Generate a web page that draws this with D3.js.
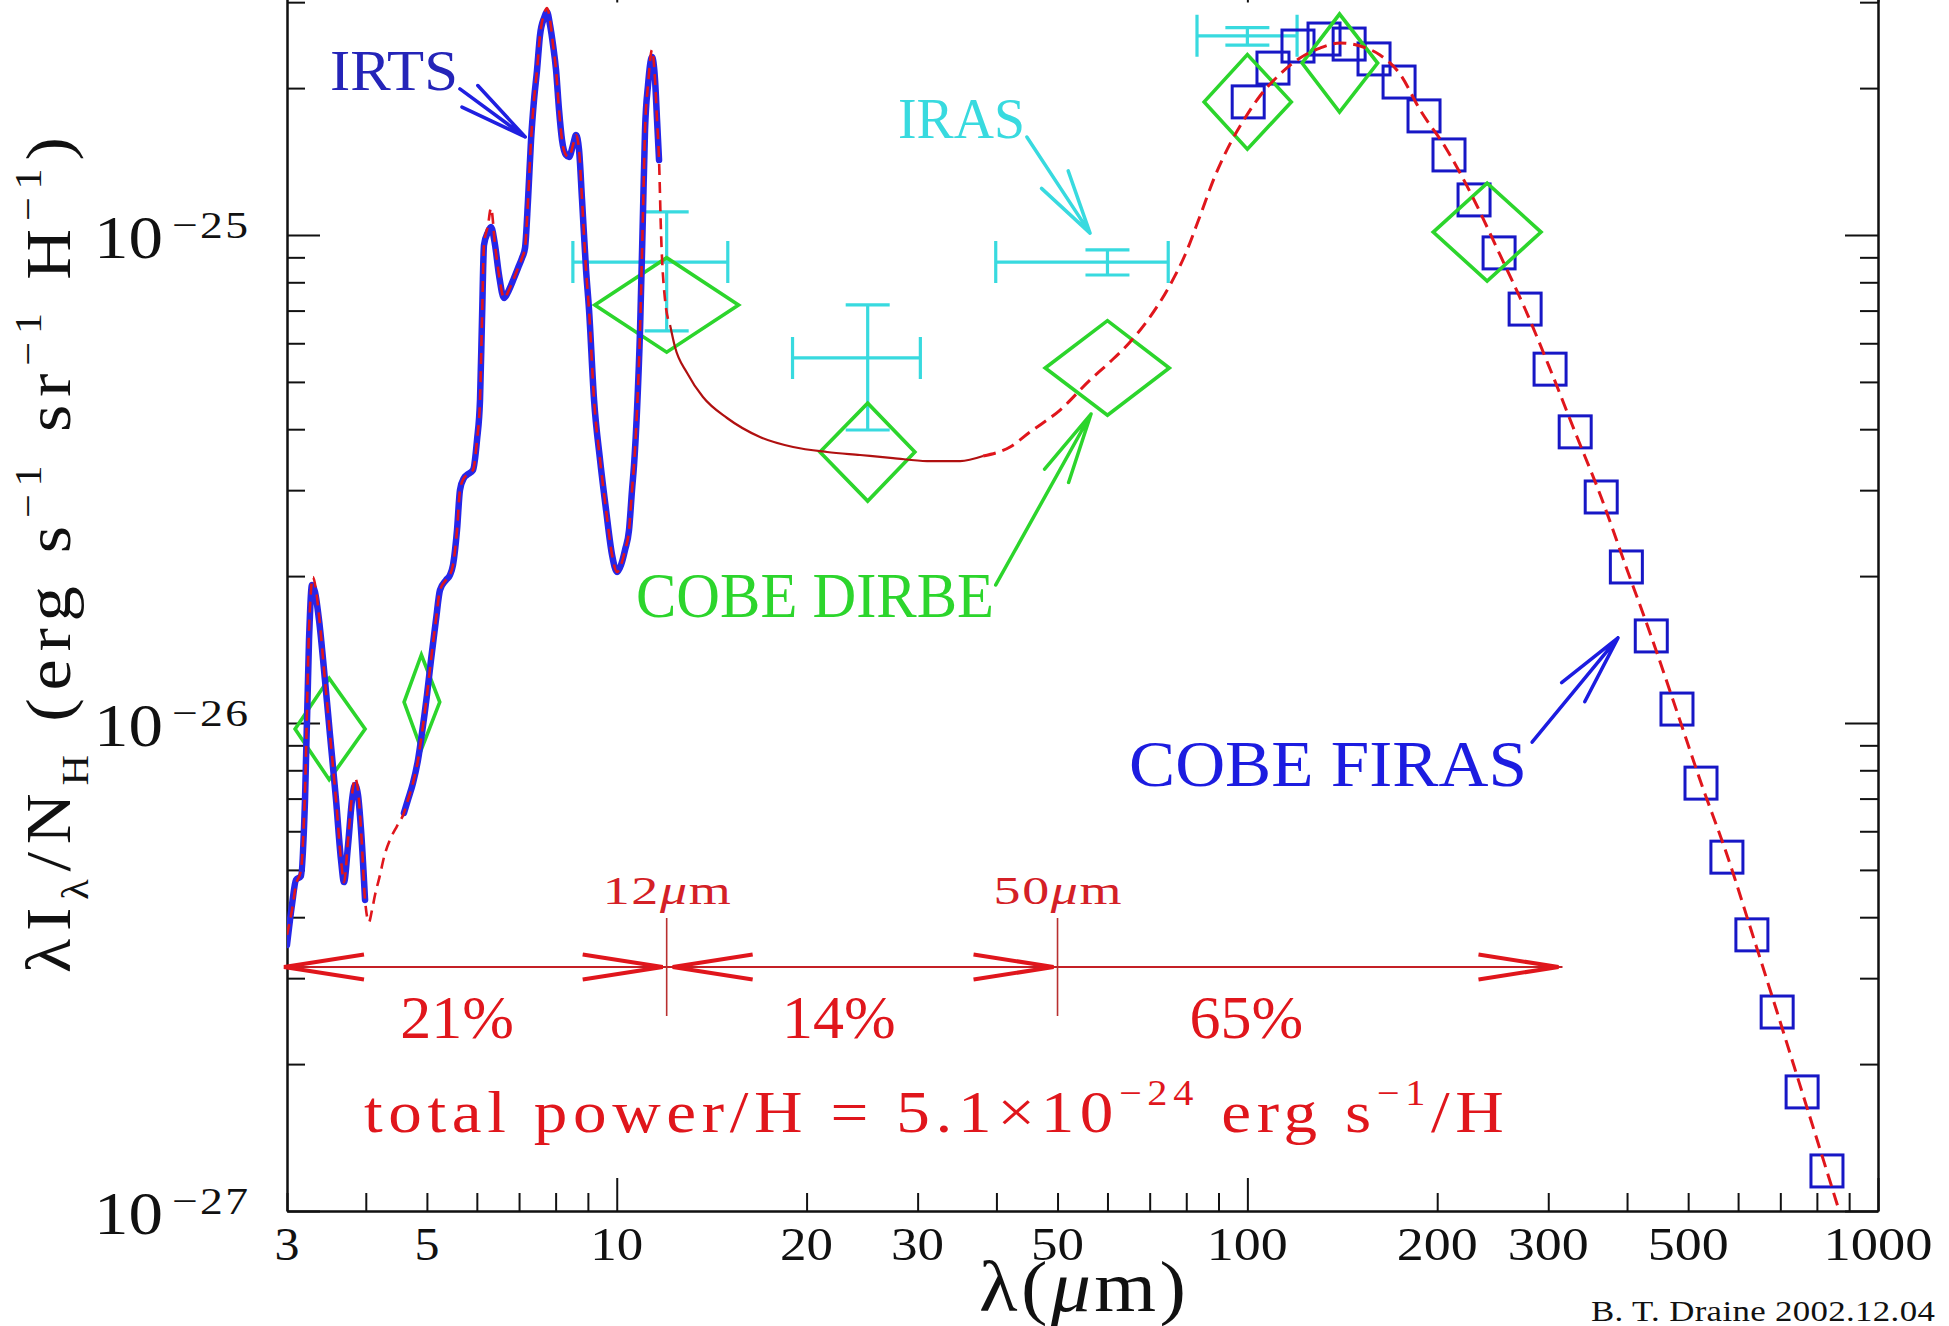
<!DOCTYPE html>
<html>
<head>
<meta charset="utf-8">
<title>Diffuse ISM infrared emission per H nucleon</title>
<script src="https://cdn.jsdelivr.net/npm/d3@7/dist/d3.min.js"></script>
<style>
  html, body { margin: 0; padding: 0; background: #fff; }
  svg { display: block; }
  text { font-family: "Liberation Serif", "Times New Roman", serif; }
</style>
</head>
<body>
<svg id="chart" width="1949" height="1326"></svg>
<script>
// Intensities are λI_λ/N_H in units of 1e-26 erg s^-1 sr^-1 H^-1, wavelengths in μm.
const UNIT = 1e-26;

// IRTS spectrum (null marks the gap between the two spectrometer ranges)
const irtsLambda = [
  3.000, 3.055, 3.100, 3.157, 3.204, 3.251, 3.287, 3.323, 3.372, 3.446,
  3.510, 3.588, 3.654, 3.694, 3.749, 3.804, 3.845, 3.888, 3.931, 3.989,
  4.300,
  4.598, 4.666, 4.752, 4.840, 4.911, 5.001, 5.075, 5.168, 5.245, 5.361,
  5.440, 5.500, 5.581, 5.642, 5.725, 5.788, 5.917, 6.004, 6.070, 6.114,
  6.159, 6.250, 6.319, 6.412, 6.506, 6.626, 6.748, 6.873, 6.974, 7.076,
  7.154, 7.233, 7.313, 7.393, 7.475, 7.557, 7.669, 7.753, 7.838, 7.925,
  8.012, 8.100, 8.189, 8.310, 8.401, 8.525, 8.619, 8.714, 8.810, 8.940,
  9.038, 9.205, 9.409, 9.617, 9.830, 10.011, 10.159, 10.307, 10.459, 10.574,
  10.652, 10.769, 10.888, 11.008, 11.088, 11.210, 11.375, 11.501, 11.585, 11.670
];
const irtsValue = [
  0.351, 0.424, 0.477, 0.486, 0.696, 1.479, 1.918, 1.855, 1.626, 1.225,
  0.945, 0.696, 0.524, 0.472, 0.562, 0.696, 0.746, 0.712, 0.604, 0.434,
  null,
  0.654, 0.696, 0.753, 0.840, 0.954, 1.141, 1.346, 1.626, 1.873, 1.963,
  2.011, 2.108, 2.486, 3.003, 3.177, 3.223, 3.300, 3.802, 4.591, 6.697,
  9.539, 10.14, 10.38, 9.539, 8.279, 7.429, 7.715, 8.164, 8.559, 8.973,
  9.406, 11.80, 15.65, 18.91, 21.79, 25.69, 27.85, 28.64, 26.94, 24.51,
  21.79, 18.04, 15.65, 14.58, 14.45, 15.29, 16.03, 14.94, 11.80, 8.480,
  7.020, 4.591, 3.459, 2.733, 2.210, 2.039, 2.108, 2.262, 2.486, 3.003,
  3.379, 4.379, 6.387, 11.25, 16.41, 20.29, 23.16, 20.78, 17.21, 14.24
];

// Dust model emission
const modelLambda = [
  3.000, 3.055, 3.100, 3.157, 3.204, 3.251, 3.299, 3.335, 3.372, 3.446,
  3.510, 3.588, 3.654, 3.694, 3.749, 3.804, 3.845, 3.888, 3.931, 3.989,
  4.047, 4.092, 4.137, 4.213, 4.275, 4.369, 4.483,
  4.598, 4.666, 4.752, 4.840, 4.911, 5.001, 5.075, 5.168, 5.245, 5.361,
  5.440, 5.500, 5.581, 5.642, 5.725, 5.788, 5.917, 6.004, 6.070, 6.114,
  6.159, 6.250, 6.319, 6.412, 6.506, 6.626, 6.748, 6.873, 6.974, 7.076,
  7.154, 7.233, 7.313, 7.393, 7.475, 7.557, 7.669, 7.753, 7.838, 7.925,
  8.012, 8.100, 8.189, 8.310, 8.401, 8.525, 8.619, 8.714, 8.810, 8.940,
  9.038, 9.205, 9.409, 9.617, 9.830, 10.011, 10.159, 10.307, 10.459, 10.574,
  10.652, 10.769, 10.888, 11.008, 11.088, 11.210, 11.375, 11.501, 11.585, 11.670,
  11.755, 11.93, 12.15, 12.37, 12.93, 13.70, 14.96, 16.87, 19.04, 21.55,
  24.31, 27.42, 31.05, 35.03, 38.10, 42.04, 45.23, 50.47, 56.30, 60.56,
  65.16, 70.09, 75.40, 79.64, 84.13, 88.86, 93.86, 99.15, 104.7, 112.7,
  121.2, 130.4, 140.3, 150.9, 162.3, 174.6, 187.9, 207.3, 228.0, 251.6,
  275.7, 302.0, 330.8, 363.8, 398.6, 436.7, 480.2, 524.2, 576.3, 631.4,
  691.8, 758.0, 830.5, 886.8
];
const modelValue = [
  0.368, 0.414, 0.466, 0.500, 0.729, 1.551, 1.991, 1.873, 1.664, 1.225,
  0.945, 0.696, 0.524, 0.472, 0.576, 0.712, 0.771, 0.729, 0.604, 0.434,
  0.391, 0.414, 0.444, 0.488, 0.531, 0.576, 0.615,
  0.654, 0.696, 0.753, 0.840, 0.954, 1.141, 1.346, 1.626, 1.873, 1.963,
  2.011, 2.108, 2.486, 3.003, 3.177, 3.223, 3.300, 3.802, 4.591, 6.697,
  9.539, 10.48, 11.36, 9.539, 8.279, 7.429, 7.715, 8.164, 8.559, 8.973,
  9.406, 11.80, 15.65, 18.91, 21.79, 25.69, 28.37, 29.19, 27.58, 24.51,
  21.79, 18.04, 15.65, 14.58, 14.45, 15.29, 16.03, 14.94, 11.80, 8.480,
  7.020, 4.591, 3.459, 2.733, 2.210, 2.039, 2.108, 2.262, 2.486, 3.003,
  3.379, 4.379, 6.387, 11.25, 16.41, 20.29, 23.94, 20.78, 17.21, 14.24,
  10.09, 7.360, 6.541, 5.895, 5.215, 4.656, 4.217, 3.856, 3.678, 3.592,
  3.541, 3.491, 3.442, 3.442, 3.525, 3.678, 3.948, 4.379, 5.045, 5.494,
  6.036, 6.792, 7.899, 9.100, 10.94, 13.21, 15.37, 17.37, 19.27, 21.37,
  23.05, 24.16, 24.74, 24.39, 23.38, 21.37, 18.04, 14.94, 11.91, 9.100,
  7.053, 5.314, 3.948, 2.905, 2.088, 1.508, 1.053, 0.7534, 0.5364, 0.3712,
  0.2557, 0.1753, 0.1202, 0.0914
];

// COBE FIRAS spectrum
const firasLambda = [
  100.3, 109.8, 120.3, 132.3, 145.0, 158.8, 174.0, 190.6, 208.8, 228.8,
  250.7, 275.7, 302, 331, 364, 399, 437, 480, 524, 576,
  631, 692, 758, 830
];
const firasValue = [
  18.74, 21.98, 24.39, 25.21, 24.62, 22.95, 20.58, 17.54, 14.59, 11.80,
  9.19, 7.05, 5.31, 3.95, 2.905, 2.088, 1.508, 1.068, 0.753, 0.531,
  0.368, 0.2557, 0.1754, 0.1208
];

// COBE DIRBE band photometry
const dirbeLambda = [3.5, 4.9, 12, 25, 60, 100, 140, 240];
const dirbeValue = [0.972, 1.104, 7.19, 3.59, 5.34, 18.74, 22.51, 10.14];
const dirbeBandLo = [3.09, 4.60, 9.23, 21.0, 47.8, 85.4, 122.1, 197.1];
const dirbeBandHi = [3.99, 5.24, 15.6, 29.7, 75.2, 117.4, 160.9, 292.2];
const dirbeErrFactor = [1.27, 1.25, 1.25, 1.26, 1.25, 1.25, 1.26, 1.26];

// IRAS band photometry
const irasLambda = [12, 25, 60, 100];
const irasValue = [8.80, 5.60, 8.80, 25.6];
const irasBandLo = [8.52, 19.0, 39.9, 83.2];
const irasBandHi = [15.0, 30.3, 74.9, 119.9];
const irasErrLo = [6.36, 3.985, 8.28, 24.5];
const irasErrHi = [11.15, 7.19, 9.32, 26.6];

// Fraction of total power in each wavelength range
const rangeEdges = [3, 12, 50, 316];
const rangeShares = ["21%", "14%", "65%"];

// Axis labelling
const xTickLabels = [3, 5, 10, 20, 30, 50, 100, 200, 300, 500, 1000];
const yTickExponents = [-27, -26, -25];

// ---------------------------------------------------------------------------
const svg = d3.select("#chart");
const X0 = 287, X1 = 1878, YB = 1211, DECADE_Y = 488;
const yTopValue = 3.5e-25;
const YT = YB - DECADE_Y * Math.log10(yTopValue / 1e-27);

const x = d3.scaleLog().domain([3, 1000]).range([X0, X1]);
const y = d3.scaleLog().domain([1e-27, yTopValue]).range([YB, YT]);

const pairs = (ls, vs) => ls.map((l, i) => ({ l, v: vs[i] == null ? null : vs[i] * UNIT }));
const irts = pairs(irtsLambda, irtsValue);
const model = pairs(modelLambda, modelValue);
const firas = pairs(firasLambda, firasValue);
const dirbe = dirbeLambda.map((l, i) => ({ l, v: dirbeValue[i] * UNIT, lo: dirbeBandLo[i], hi: dirbeBandHi[i], f: dirbeErrFactor[i] }));
const iras = irasLambda.map((l, i) => ({ l, v: irasValue[i] * UNIT, lo: irasBandLo[i], hi: irasBandHi[i], eLo: irasErrLo[i] * UNIT, eHi: irasErrHi[i] * UNIT }));

// ---------- frame and ticks ----------
const axesG = svg.append("g");
function styleAxis(g) {
  g.selectAll("path, line").attr("stroke", "#111").attr("stroke-width", 2);
  g.selectAll("text").remove();
}
const xMinor = [], yMinor = [];
[1, 10, 100].forEach(d => { for (let k = 2; k <= 9; k++) { const v = k * d; if (v >= 3 && v <= 1000) xMinor.push(v); } });
[1e-27, 1e-26, 1e-25].forEach(d => { for (let k = 2; k <= 9; k++) { const v = k * d; if (v <= yTopValue) yMinor.push(v); } });
const xMajor = [10, 100, 1000];
const yMajor = [1e-27, 1e-26, 1e-25];

[[xMinor, 18], [xMajor, 33]].forEach(([vals, len]) => {
  axesG.append("g").attr("transform", `translate(0,${YB})`)
    .call(d3.axisBottom(x).tickValues(vals).tickSize(-len).tickSizeOuter(0)).call(styleAxis);
  axesG.append("g").attr("transform", `translate(0,${YT})`)
    .call(d3.axisTop(x).tickValues(vals).tickSize(-len).tickSizeOuter(0)).call(styleAxis);
});
[[yMinor, 18], [yMajor, 33]].forEach(([vals, len]) => {
  axesG.append("g").attr("transform", `translate(${X0},0)`)
    .call(d3.axisLeft(y).tickValues(vals).tickSize(-len).tickSizeOuter(0)).call(styleAxis);
  axesG.append("g").attr("transform", `translate(${X1},0)`)
    .call(d3.axisRight(y).tickValues(vals).tickSize(-len).tickSizeOuter(0)).call(styleAxis);
});

// ---------- text helpers ----------
// Spread a label over a given width: glyphs are widened by at most maxScale,
// the remainder is taken up by letter spacing (plotter-style lettering).
function fit(t, width, maxScale) {
  if (!width) return t;
  const node = t.node();
  const w = node.getComputedTextLength();
  const n = node.getNumberOfChars();
  const s = Math.min(maxScale == null ? 1.15 : maxScale, width / w);
  const ls = n > 1 ? (width / s - w) / (n - 1) : 0;
  const x0 = +t.attr("x") || 0, y0 = +t.attr("y") || 0;
  const base = t.attr("transform") || "";
  t.attr("letter-spacing", ls.toFixed(2))
   .attr("transform", `${base} translate(${x0},${y0}) scale(${s.toFixed(4)},1) translate(${-x0},${-y0})`);
  return t;
}
// parts: [string, kind] with kind "n" (normal), "sup", "sub", "it" (italic)
function richText(parent, parts, o) {
  const t = parent.append("text")
    .attr("x", o.x).attr("y", o.y)
    .attr("font-size", o.size).attr("fill", o.fill || "#111");
  if (o.transform) t.attr("transform", o.transform);
  let shift = 0;
  parts.forEach(([s, k]) => {
    const ts = t.append("tspan").text(s);
    const target = k === "sup" ? -0.45 : k === "sub" ? 0.28 : 0;
    const dy = (target - shift) * o.size;
    if (dy) ts.attr("dy", dy.toFixed(2));
    if (k === "sup" || k === "sub") ts.attr("font-size", o.size * (o.small || 0.6));
    if (k === "it") ts.attr("font-style", "italic");
    shift = target;
  });
  return fit(t, o.width, o.maxScale);
}

// ---------- tick labels ----------
const xLabG = svg.append("g").attr("font-size", 46).attr("fill", "#111");
xLabG.selectAll("text").data(xTickLabels).join("text")
  .each(function (d) {
    const w = 28 * String(d).length - 3;
    const t = d3.select(this).attr("x", x(d) - w / 2).attr("y", YB + 49).text(d);
    fit(t, w, 1.3);
  });

const yLabG = svg.append("g").attr("fill", "#111");
yTickExponents.forEach(e => {
  const yy = y(Math.pow(10, e));
  fit(yLabG.append("text").attr("x", X0 - 193).attr("y", yy + 23).attr("font-size", 62).text("10"), 69, 1.12);
  fit(yLabG.append("text").attr("x", X0 - 115).attr("y", yy + 3).attr("font-size", 38).text("\u2212" + Math.abs(e)), 76, 1.2);
});

// axis titles
richText(svg, [["λ(", "n"], ["μ", "it"], ["m)", "n"]], { x: 979, y: 1311, size: 71, width: 207, maxScale: 1.12 });
richText(svg, [["λI", "n"], ["λ", "sub"], ["/N", "n"], ["H", "sub"], [" (erg s", "n"], ["\u22121", "sup"],
               [" sr", "n"], ["\u22121", "sup"], [" H", "n"], ["\u22121", "sup"], [")", "n"]],
  { x: 0, y: 0, size: 64, width: 836, maxScale: 1.1, transform: "translate(70,973) rotate(-90)" });

// ---------- data layers ----------
svg.append("clipPath").attr("id", "plotArea").append("rect")
  .attr("x", X0).attr("y", YT).attr("width", X1 - X0).attr("height", YB - YT);
const plot = svg.append("g").attr("clip-path", "url(#plotArea)");

// IRAS: band width and error bars
const CYAN = "#38dadf";
plot.append("g").attr("fill", "none").attr("stroke", CYAN).attr("stroke-width", 3.2)
  .selectAll("path").data(iras).join("path")
  .attr("d", d => {
    const cx = x(d.l), cy = y(d.v), xa = x(d.lo), xb = x(d.hi), ya = y(d.eHi), yb = y(d.eLo);
    return `M${xa},${cy}H${xb}M${xa},${cy - 21}V${cy + 21}M${xb},${cy - 21}V${cy + 21}` +
           `M${cx},${ya}V${yb}M${cx - 22},${ya}H${cx + 22}M${cx - 22},${yb}H${cx + 22}`;
  });

// COBE FIRAS squares
plot.append("g").attr("fill", "none").attr("stroke", "#1717c6").attr("stroke-width", 3)
  .selectAll("rect").data(firas).join("rect")
  .attr("x", d => x(d.l) - 16).attr("y", d => y(d.v) - 16)
  .attr("width", 32).attr("height", 32);

// COBE DIRBE diamonds: horizontal extent = band, vertical extent = uncertainty
plot.append("g").attr("fill", "none").attr("stroke", "#2cd52c").attr("stroke-width", 3.6)
  .attr("stroke-linejoin", "miter")
  .selectAll("path").data(dirbe).join("path")
  .attr("d", d => `M${x(d.lo)},${y(d.v)}L${x(d.l)},${y(d.v * d.f)}L${x(d.hi)},${y(d.v)}L${x(d.l)},${y(d.v / d.f)}Z`);

// IRTS spectrum
const line = d3.line().defined(d => d.v != null).x(d => x(d.l)).y(d => y(d.v)).curve(d3.curveMonotoneX);
plot.append("path").datum(irts).attr("d", line)
  .attr("fill", "none").attr("stroke", "#2626e8").attr("stroke-width", 6.5)
  .attr("stroke-linejoin", "round").attr("stroke-linecap", "round");

// dust model: dashed where overlaid on data, solid across the mid-IR continuum
const SOLID_FROM = 12.15, SOLID_TO = 38.10;
const segA = model.filter(d => d.l <= SOLID_FROM);
const segB = model.filter(d => d.l >= SOLID_FROM && d.l <= SOLID_TO);
const segC = model.filter(d => d.l >= SOLID_TO);
plot.append("path").datum(segA).attr("d", line)
  .attr("fill", "none").attr("stroke", "#e0161c").attr("stroke-width", 2.6).attr("stroke-dasharray", "11,7");
plot.append("path").datum(segB).attr("d", line)
  .attr("fill", "none").attr("stroke", "#b01010").attr("stroke-width", 2.2);
plot.append("path").datum(segC).attr("d", line)
  .attr("fill", "none").attr("stroke", "#e0161c").attr("stroke-width", 3).attr("stroke-dasharray", "13,7");

// ---------- annotations ----------
const ann = svg.append("g");
function arrow(g, from, to, head, angDeg, color, w) {
  const x1 = x(from[0]), y1 = y(from[1] * UNIT), x2 = x(to[0]), y2 = y(to[1] * UNIT);
  const a = Math.atan2(y1 - y2, x1 - x2), da = angDeg * Math.PI / 180;
  let d = `M${x1},${y1}L${x2},${y2}`;
  [-1, 1].forEach(s => { d += `M${x2},${y2}L${x2 + head * Math.cos(a + s * da)},${y2 + head * Math.sin(a + s * da)}`; });
  g.append("path").attr("d", d).attr("fill", "none").attr("stroke", color)
    .attr("stroke-width", w).attr("stroke-linecap", "round");
}

// instrument call-outs
richText(ann, [["IRTS", "n"]], { x: 330, y: 90, size: 58, fill: "#2424b8", width: 128 });
arrow(ann, [5.64, 19.92], [7.16, 15.88], 70, 11, "#1f1fe0", 3.5);

richText(ann, [["IRAS", "n"]], { x: 898, y: 138, size: 58, fill: CYAN, width: 127 });
arrow(ann, [44.7, 15.88], [56.3, 10.09], 66, 14, CYAN, 3.5);

richText(ann, [["COBE DIRBE", "n"]], { x: 636, y: 617, size: 64, fill: "#2cd52c", width: 358 });
arrow(ann, [39.9, 1.918], [56.5, 4.297], 72, 11, "#2cd52c", 3.5);

richText(ann, [["COBE FIRAS", "n"]], { x: 1129, y: 786, size: 66, fill: "#1c1ce0", width: 398 });
arrow(ann, [282.8, 0.914], [387, 1.494], 72, 12, "#1c1ce0", 3.5);

// wavelength ranges and their power fractions
const RED = "#e0161c";
const ay = y(Math.pow(10, -26.5));
const rg = ann.append("g");
function hHead(xTip, dir) {
  const len = 80, half = 12.5;
  rg.append("path")
    .attr("d", `M${xTip - dir * len},${ay - half}L${xTip},${ay}L${xTip - dir * len},${ay + half}`)
    .attr("fill", "none").attr("stroke", RED).attr("stroke-width", 4).attr("stroke-linejoin", "miter");
}
for (let i = 0; i < rangeShares.length; i++) {
  const xa = x(rangeEdges[i]), xb = x(rangeEdges[i + 1]);
  rg.append("line").attr("x1", xa).attr("x2", xb).attr("y1", ay).attr("y2", ay)
    .attr("stroke", "#c42026").attr("stroke-width", 2);
  hHead(xb - 4, 1);
  if (i < 2) hHead(xa + (i === 0 ? -3 : 6), -1);
}
[12, 50].forEach(l => {
  rg.append("line").attr("x1", x(l)).attr("x2", x(l)).attr("y1", ay - 49).attr("y2", ay + 49)
    .attr("stroke", "#b83030").attr("stroke-width", 1.6);
  richText(rg, [[String(l), "n"], ["μ", "it"], ["m", "n"]],
    { x: x(l) - 64, y: ay - 63, size: 40, fill: "#d42026", width: 128, maxScale: 1.35 });
});
const shareCentres = [5.58, 22.5, 99.6];
rangeShares.forEach((s, i) => {
  rg.append("text").attr("x", x(shareCentres[i])).attr("y", ay + 71)
    .attr("text-anchor", "middle").attr("font-size", 62).attr("fill", RED).text(s);
});

richText(ann, [["total power/H = 5.1×10", "n"], ["\u221224", "sup"], [" erg s", "n"], ["\u22121", "sup"], ["/H", "n"]],
  { x: 364, y: 1132, size: 60, fill: RED, width: 1140, maxScale: 1.12 });

richText(svg, [["B. T. Draine  2002.12.04", "n"]], { x: 1591, y: 1321, size: 29, fill: "#111", width: 344, maxScale: 1.2 });
</script>
</body>
</html>
